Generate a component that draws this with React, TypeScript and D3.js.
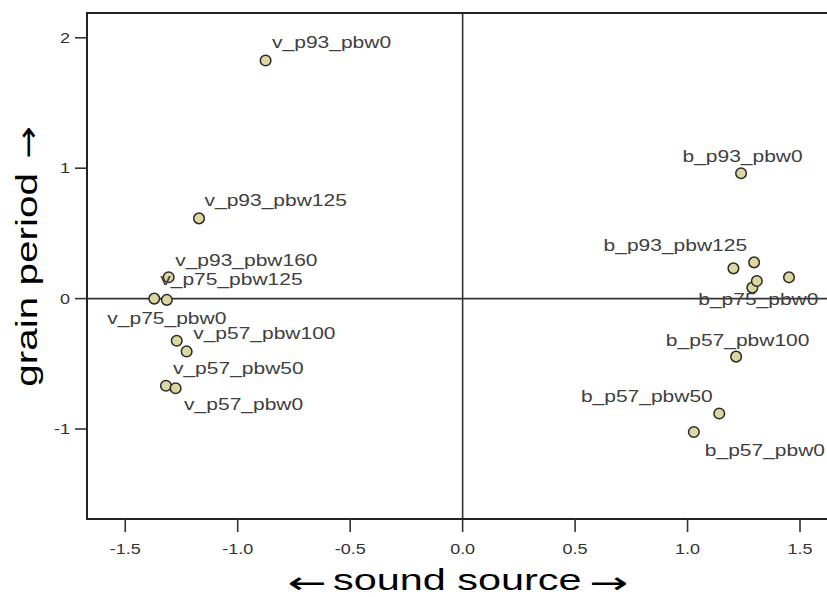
import React from "react";
import * as d3 from "d3";

// Stimulus names; empty string = point drawn without a label
const pointLabels = [
  "v_p93_pbw0", "v_p93_pbw125", "v_p93_pbw160", "v_p75_pbw125", "v_p75_pbw0", "",
  "v_p57_pbw100", "v_p57_pbw50", "v_p57_pbw0",
  "b_p93_pbw0", "b_p93_pbw125", "", "", "b_p75_pbw0", "",
  "b_p57_pbw100", "b_p57_pbw50", "b_p57_pbw0",
];
// Dimension 1: sound source
const soundSource = [
  -0.876, -1.172, -1.307, -1.371, -1.315, -1.271, -1.227, -1.319, -1.276,
  1.238, 1.296, 1.204, 1.451, 1.288, 1.308, 1.216, 1.141, 1.028,
];
// Dimension 2: grain period
const grainPeriod = [
  1.826, 0.615, 0.164, 0.0, -0.01, -0.323, -0.405, -0.668, -0.687,
  0.961, 0.278, 0.232, 0.163, 0.084, 0.135, -0.445, -0.881, -1.023,
];
const xTicks = [-1.5, -1.0, -0.5, 0.0, 0.5, 1.0, 1.5];
const yTicks = [-1, 0, 1, 2];

// Label placement relative to its point
const labelPlacement: Record<string, { dx: number; dy: number; anchor: string }> = {
  v_p93_pbw0: { dx: 6.5, dy: -12, anchor: "start" },
  v_p93_pbw125: { dx: 5.5, dy: -12.5, anchor: "start" },
  v_p93_pbw160: { dx: 6.5, dy: -11, anchor: "start" },
  v_p75_pbw125: { dx: 6, dy: -14, anchor: "start" },
  v_p75_pbw0: { dx: 0, dy: 24, anchor: "middle" },
  v_p57_pbw100: { dx: 6.5, dy: -12, anchor: "start" },
  v_p57_pbw50: { dx: 7, dy: -12, anchor: "start" },
  v_p57_pbw0: { dx: 8.5, dy: 22, anchor: "start" },
  b_p93_pbw0: { dx: 1.5, dy: -11, anchor: "middle" },
  b_p93_pbw125: { dx: -7, dy: -11.5, anchor: "end" },
  b_p75_pbw0: { dx: 6, dy: 17, anchor: "middle" },
  b_p57_pbw100: { dx: 1.5, dy: -11, anchor: "middle" },
  b_p57_pbw50: { dx: -6.5, dy: -11, anchor: "end" },
  b_p57_pbw0: { dx: 11, dy: 23.5, anchor: "start" },
};

const W = 827;
const H = 597;
const plot = { left: 87, top: 13, right: 827, bottom: 519 };
const FONT = "'Liberation Sans', Arial, sans-serif";
const ARROW_FONT = "'DejaVu Sans', sans-serif";
const STRETCH = 1.235;

export default function App() {
  const x = d3.scaleLinear().domain([-1.67, 1.62]).range([plot.left, plot.right]);
  const y = d3.scaleLinear().domain([-1.69, 2.19]).range([plot.bottom, plot.top]);
  const fmtX = (v: number) => v.toFixed(1);
  const fmtY = (v: number) => v.toFixed(0);

  const points = pointLabels.map((label, i) => ({
    label,
    cx: x(soundSource[i]),
    cy: y(grainPeriod[i]),
  }));

  return (
    <svg
      width={W}
      height={H}
      style={{ position: "absolute", left: 0, top: 0, background: "#fff" }}
      fontFamily={FONT}
    >
      <rect width={W} height={H} fill="#fff" />

      {/* reference lines through the origin */}
      <line x1={plot.left} x2={plot.right + 5} y1={y(0)} y2={y(0)} stroke="#333" strokeWidth={1.6} />
      <line x1={x(0)} x2={x(0)} y1={plot.top} y2={plot.bottom} stroke="#333" strokeWidth={1.6} />

      {/* frame */}
      <line x1={plot.left} x2={plot.right + 5} y1={plot.top} y2={plot.top} stroke="#222" strokeWidth={2} />
      <line x1={plot.left} x2={plot.right + 5} y1={plot.bottom} y2={plot.bottom} stroke="#222" strokeWidth={2} />
      <line x1={plot.left} x2={plot.left} y1={plot.top - 1} y2={plot.bottom + 1} stroke="#222" strokeWidth={2} />

      {/* x axis */}
      {xTicks.map((t) => (
        <g key={"x" + t}>
          <line x1={x(t)} x2={x(t)} y1={plot.bottom} y2={plot.bottom + 13} stroke="#333" strokeWidth={1.6} />
          <text
            transform={`translate(${x(t)},${554}) scale(1.2,1)`}
            textAnchor="middle"
            fontSize={15}
            fill="#333"
          >
            {fmtX(t)}
          </text>
        </g>
      ))}

      {/* y axis */}
      {yTicks.map((t) => (
        <g key={"y" + t}>
          <line x1={plot.left - 12} x2={plot.left} y1={y(t)} y2={y(t)} stroke="#333" strokeWidth={1.6} />
          <text
            transform={`translate(${70},${y(t) + 5.3}) scale(1.2,1)`}
            textAnchor="end"
            fontSize={15}
            fill="#333"
          >
            {fmtY(t)}
          </text>
        </g>
      ))}

      {/* points */}
      {points.map((p, i) => (
        <circle key={"c" + i} cx={p.cx} cy={p.cy} r={5.3} fill="#dcd6a0" stroke="#2a2a2a" strokeWidth={1.5} />
      ))}

      {/* point labels */}
      {points
        .filter((p) => p.label)
        .map((p) => {
          const pl = labelPlacement[p.label];
          return (
            <text
              key={"l" + p.label}
              transform={`translate(${p.cx + pl.dx},${p.cy + pl.dy}) scale(${STRETCH},1)`}
              textAnchor={pl.anchor}
              fontSize={17}
              fill="#404040"
            >
              {p.label}
            </text>
          );
        })}

      {/* x axis title */}
      <text
        transform="translate(327,593) scale(1.55,1)"
        textAnchor="end"
        fontFamily={ARROW_FONT}
        fontSize={30}
        fill="#000"
      >
        ←
      </text>
      <text x={333} y={590} fontSize={30} fill="#000" textLength={248.5} lengthAdjust="spacingAndGlyphs">
        sound source
      </text>
      <text
        transform="translate(589,593) scale(1.55,1)"
        fontFamily={ARROW_FONT}
        fontSize={30}
        fill="#000"
      >
        →
      </text>

      {/* y axis title */}
      <g transform="translate(37,0) rotate(-90)">
        <text x={-386.7} y={0} fontSize={30} fill="#000" textLength={213.7} lengthAdjust="spacingAndGlyphs">
          grain period
        </text>
        <text
          transform="translate(-159,1) scale(1.3,1)"
          fontFamily={ARROW_FONT}
          fontSize={30}
          fill="#000"
        >
          →
        </text>
      </g>
    </svg>
  );
}
